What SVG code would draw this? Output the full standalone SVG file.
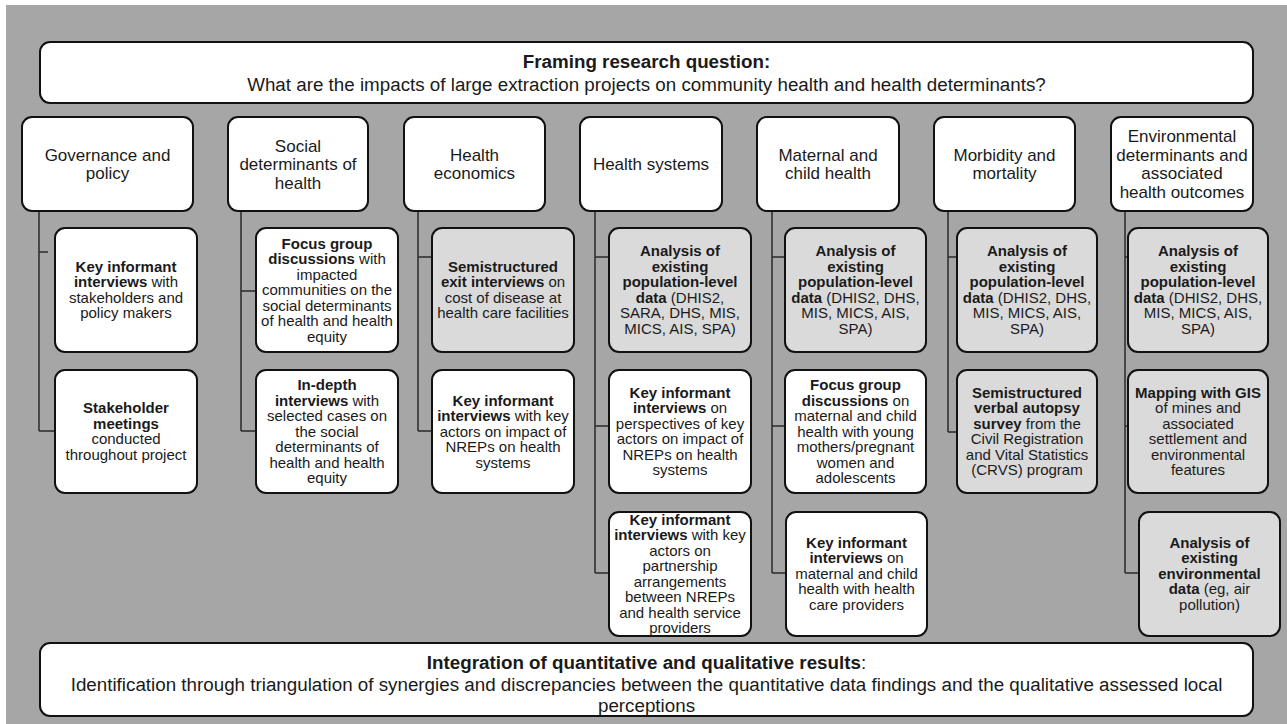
<svg xmlns="http://www.w3.org/2000/svg" width="1287" height="724" viewBox="0 0 1287 724">
<style>
.bg{fill:#a6a6a6}
.box{stroke:#111;stroke-width:2}
.w{fill:#ffffff}
.g{fill:#dadada}
.t{font-family:"Liberation Sans",Arial,sans-serif;fill:#1a1a1a;text-anchor:middle}
.s{font-size:15px}
.c{font-size:17px}
.h{font-size:18.8px}
.b{font-weight:bold}
.ln{stroke:#2a2a2a;stroke-width:1.5;fill:none}
</style>
<rect x="0" y="0" width="1287" height="724" fill="#ffffff"/>
<rect class="bg" x="6" y="5" width="1281" height="719"/>

<g id="connectors">
<path class="ln" d="M39,211V431M39,252H48M39,431H55"/>
<path class="ln" d="M241,211V431M241,291H256M241,431H256"/>
<path class="ln" d="M418,211V431M418,257H432M418,431H432"/>
<path class="ln" d="M595,211V573M595,257H609M595,426H609M595,573H609"/>
<path class="ln" d="M772,211V573M772,257H785M772,426H785M772,573H786"/>
<path class="ln" d="M948,211V432M948,257H957M948,432H957"/>
<path class="ln" d="M1125,211V573M1125,257H1128M1125,426H1128M1125,573H1139"/>
</g>

<g id="question">
<rect class="box w" x="40" y="42" width="1213" height="61" rx="10"/>
<text class="t h"><tspan class="b" x="646.5" y="68">Framing research question:</tspan><tspan x="646.5" y="91">What are the impacts of large extraction projects on community health and health determinants?</tspan></text>
</g>

<g id="cat-governance">
<rect class="box w" x="22" y="117" width="171" height="94" rx="10"/>
<text class="t c"><tspan x="107.5" y="160.75">Governance and</tspan><tspan x="107.5" y="179.25">policy</tspan></text>
</g>
<g id="cat-social">
<rect class="box w" x="228" y="117" width="140" height="94" rx="10"/>
<text class="t c"><tspan x="298" y="151.5">Social</tspan><tspan x="298" y="170">determinants of</tspan><tspan x="298" y="188.5">health</tspan></text>
</g>
<g id="cat-economics">
<rect class="box w" x="404" y="117" width="141" height="94" rx="10"/>
<text class="t c"><tspan x="474.5" y="160.75">Health</tspan><tspan x="474.5" y="179.25">economics</tspan></text>
</g>
<g id="cat-systems">
<rect class="box w" x="580" y="117" width="142" height="94" rx="10"/>
<text class="t c"><tspan x="651" y="170">Health systems</tspan></text>
</g>
<g id="cat-maternal">
<rect class="box w" x="757" y="117" width="142" height="94" rx="10"/>
<text class="t c"><tspan x="828" y="160.75">Maternal and</tspan><tspan x="828" y="179.25">child health</tspan></text>
</g>
<g id="cat-morbidity">
<rect class="box w" x="934" y="117" width="141" height="94" rx="10"/>
<text class="t c"><tspan x="1004.5" y="160.75">Morbidity and</tspan><tspan x="1004.5" y="179.25">mortality</tspan></text>
</g>
<g id="cat-environment">
<rect class="box w" x="1111" y="117" width="142" height="94" rx="10"/>
<text class="t c"><tspan x="1182" y="142.25">Environmental</tspan><tspan x="1182" y="160.75">determinants and</tspan><tspan x="1182" y="179.25">associated</tspan><tspan x="1182" y="197.75">health outcomes</tspan></text>
</g>

<g id="gov-kii">
<rect class="box w" x="55" y="228" width="142" height="124" rx="10"/>
<text class="t s"><tspan x="126" y="271.75" class="b">Key informant</tspan><tspan x="126" y="287.25"><tspan class="b">interviews</tspan> with</tspan><tspan x="126" y="302.75">stakeholders and</tspan><tspan x="126" y="318.25">policy makers</tspan></text>
</g>
<g id="gov-meetings">
<rect class="box w" x="55" y="370" width="142" height="123" rx="10"/>
<text class="t s"><tspan x="126" y="413.25" class="b">Stakeholder</tspan><tspan x="126" y="428.75" class="b">meetings</tspan><tspan x="126" y="444.25">conducted</tspan><tspan x="126" y="459.75">throughout project</tspan></text>
</g>

<g id="soc-fgd">
<rect class="box w" x="256" y="228" width="142" height="124" rx="10"/>
<text class="t s"><tspan x="327" y="248.5" class="b">Focus group</tspan><tspan x="327" y="264"><tspan class="b">discussions</tspan> with</tspan><tspan x="327" y="279.5">impacted</tspan><tspan x="327" y="295">communities on the</tspan><tspan x="327" y="310.5">social determinants</tspan><tspan x="327" y="326">of health and health</tspan><tspan x="327" y="341.5">equity</tspan></text>
</g>
<g id="soc-idi">
<rect class="box w" x="256" y="370" width="142" height="123" rx="10"/>
<text class="t s"><tspan x="327" y="390" class="b">In-depth</tspan><tspan x="327" y="405.5"><tspan class="b">interviews</tspan>  with</tspan><tspan x="327" y="421">selected cases on</tspan><tspan x="327" y="436.5">the social</tspan><tspan x="327" y="452">determinants of</tspan><tspan x="327" y="467.5">health and health</tspan><tspan x="327" y="483">equity</tspan></text>
</g>

<g id="eco-exit">
<rect class="box g" x="432" y="228" width="142" height="124" rx="10"/>
<text class="t s"><tspan x="503" y="271.75" class="b">Semistructured</tspan><tspan x="503" y="287.25"><tspan class="b">exit interviews</tspan> on</tspan><tspan x="503" y="302.75">cost of disease at</tspan><tspan x="503" y="318.25">health care facilities</tspan></text>
</g>
<g id="eco-kii">
<rect class="box w" x="432" y="370" width="142" height="123" rx="10"/>
<text class="t s"><tspan x="503" y="405.5" class="b">Key informant</tspan><tspan x="503" y="421"><tspan class="b">interviews</tspan> with key</tspan><tspan x="503" y="436.5">actors on impact of</tspan><tspan x="503" y="452">NREPs on health</tspan><tspan x="503" y="467.5">systems</tspan></text>
</g>

<g id="sys-data">
<rect class="box g" x="609" y="228" width="142" height="124" rx="10"/>
<text class="t s"><tspan x="680" y="256.25" class="b">Analysis of</tspan><tspan x="680" y="271.75" class="b">existing</tspan><tspan x="680" y="287.25" class="b">population-level</tspan><tspan x="680" y="302.75"><tspan class="b">data</tspan> (DHIS2,</tspan><tspan x="680" y="318.25">SARA, DHS, MIS,</tspan><tspan x="680" y="333.75">MICS, AIS, SPA)</tspan></text>
</g>
<g id="sys-kii-perspectives">
<rect class="box w" x="609" y="370" width="142" height="123" rx="10"/>
<text class="t s"><tspan x="680" y="397.75" class="b">Key informant</tspan><tspan x="680" y="413.25"><tspan class="b">interviews</tspan> on</tspan><tspan x="680" y="428.75">perspectives of key</tspan><tspan x="680" y="444.25">actors on impact of</tspan><tspan x="680" y="459.75">NREPs on health</tspan><tspan x="680" y="475.25">systems</tspan></text>
</g>
<g id="sys-kii-partnership">
<rect class="box w" x="609" y="512" width="142" height="124" rx="10"/>
<text class="t s"><tspan x="680" y="524.75" class="b">Key informant</tspan><tspan x="680" y="540.25"><tspan class="b">interviews</tspan> with key</tspan><tspan x="680" y="555.75">actors on</tspan><tspan x="680" y="571.25">partnership</tspan><tspan x="680" y="586.75">arrangements</tspan><tspan x="680" y="602.25">between NREPs</tspan><tspan x="680" y="617.75">and health service</tspan><tspan x="680" y="633.25">providers</tspan></text>
</g>

<g id="mat-data">
<rect class="box g" x="785" y="228" width="141" height="124" rx="10"/>
<text class="t s"><tspan x="855.5" y="256.25" class="b">Analysis of</tspan><tspan x="855.5" y="271.75" class="b">existing</tspan><tspan x="855.5" y="287.25" class="b">population-level</tspan><tspan x="855.5" y="302.75"><tspan class="b">data</tspan> (DHIS2, DHS,</tspan><tspan x="855.5" y="318.25">MIS, MICS, AIS,</tspan><tspan x="855.5" y="333.75">SPA)</tspan></text>
</g>
<g id="mat-fgd">
<rect class="box w" x="785" y="370" width="141" height="123" rx="10"/>
<text class="t s"><tspan x="855.5" y="390" class="b">Focus group</tspan><tspan x="855.5" y="405.5"><tspan class="b">discussions</tspan> on</tspan><tspan x="855.5" y="421">maternal and child</tspan><tspan x="855.5" y="436.5">health with young</tspan><tspan x="855.5" y="452">mothers/pregnant</tspan><tspan x="855.5" y="467.5">women and</tspan><tspan x="855.5" y="483">adolescents</tspan></text>
</g>
<g id="mat-kii">
<rect class="box w" x="786" y="512" width="141" height="124" rx="10"/>
<text class="t s"><tspan x="856.5" y="547.5" class="b">Key informant</tspan><tspan x="856.5" y="563"><tspan class="b">interviews</tspan> on</tspan><tspan x="856.5" y="578.5">maternal and child</tspan><tspan x="856.5" y="594">health with health</tspan><tspan x="856.5" y="609.5">care providers</tspan></text>
</g>

<g id="mor-data">
<rect class="box g" x="957" y="228" width="140" height="124" rx="10"/>
<text class="t s"><tspan x="1027" y="256.25" class="b">Analysis of</tspan><tspan x="1027" y="271.75" class="b">existing</tspan><tspan x="1027" y="287.25" class="b">population-level</tspan><tspan x="1027" y="302.75"><tspan class="b">data</tspan> (DHIS2, DHS,</tspan><tspan x="1027" y="318.25">MIS, MICS, AIS,</tspan><tspan x="1027" y="333.75">SPA)</tspan></text>
</g>
<g id="mor-autopsy">
<rect class="box g" x="957" y="370" width="140" height="123" rx="10"/>
<text class="t s"><tspan x="1027" y="397.75" class="b">Semistructured</tspan><tspan x="1027" y="413.25" class="b">verbal autopsy</tspan><tspan x="1027" y="428.75"><tspan class="b">survey</tspan> from the</tspan><tspan x="1027" y="444.25">Civil Registration</tspan><tspan x="1027" y="459.75">and Vital Statistics</tspan><tspan x="1027" y="475.25">(CRVS) program</tspan></text>
</g>

<g id="env-data">
<rect class="box g" x="1128" y="228" width="140" height="124" rx="10"/>
<text class="t s"><tspan x="1198" y="256.25" class="b">Analysis of</tspan><tspan x="1198" y="271.75" class="b">existing</tspan><tspan x="1198" y="287.25" class="b">population-level</tspan><tspan x="1198" y="302.75"><tspan class="b">data</tspan> (DHIS2, DHS,</tspan><tspan x="1198" y="318.25">MIS, MICS, AIS,</tspan><tspan x="1198" y="333.75">SPA)</tspan></text>
</g>
<g id="env-gis">
<rect class="box g" x="1128" y="370" width="140" height="123" rx="10"/>
<text class="t s"><tspan x="1198" y="397.75" class="b">Mapping with GIS</tspan><tspan x="1198" y="413.25">of mines and</tspan><tspan x="1198" y="428.75">associated</tspan><tspan x="1198" y="444.25">settlement and</tspan><tspan x="1198" y="459.75">environmental</tspan><tspan x="1198" y="475.25">features</tspan></text>
</g>
<g id="env-envdata">
<rect class="box g" x="1139" y="512" width="141" height="124" rx="10"/>
<text class="t s"><tspan x="1209.5" y="547.5" class="b">Analysis of</tspan><tspan x="1209.5" y="563" class="b">existing</tspan><tspan x="1209.5" y="578.5" class="b">environmental</tspan><tspan x="1209.5" y="594"><tspan class="b">data</tspan> (eg, air</tspan><tspan x="1209.5" y="609.5">pollution)</tspan></text>
</g>

<g id="integration">
<rect class="box w" x="40" y="643" width="1213" height="73" rx="10"/>
<text class="t h"><tspan x="646.5" y="668.5"><tspan class="b">Integration of quantitative and qualitative results</tspan>:</tspan><tspan x="646.5" y="690.5">Identification through triangulation of synergies and discrepancies between the quantitative data findings and the qualitative assessed local</tspan><tspan x="646.5" y="711.5">perceptions</tspan></text>
</g>
</svg>
